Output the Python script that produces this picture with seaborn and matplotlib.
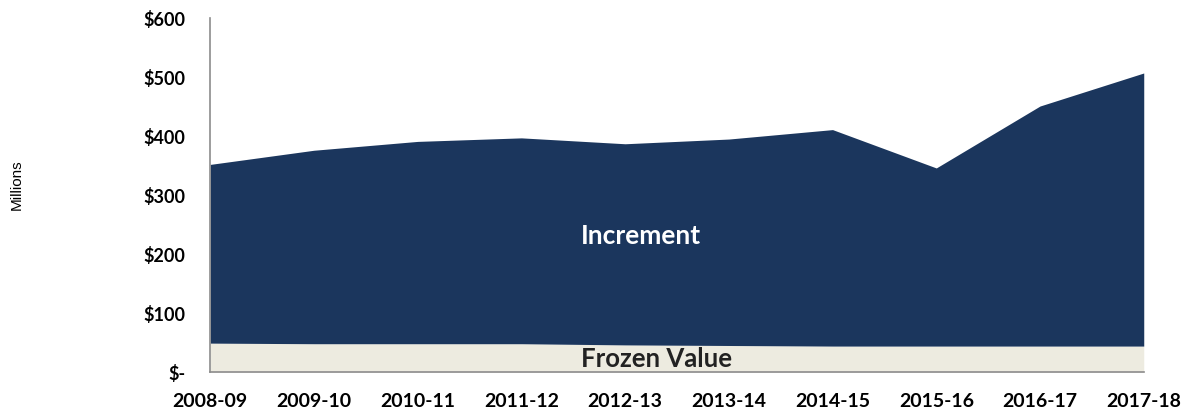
import numpy as np
import seaborn as sns
import matplotlib.pyplot as plt
from matplotlib.ticker import FuncFormatter

sns.set_theme(style='white')
plt.rcParams['font.family'] = ['Lato', 'DejaVu Sans']

years = ['2008-09', '2009-10', '2010-11', '2011-12', '2012-13',
         '2013-14', '2014-15', '2015-16', '2016-17', '2017-18']
frozen = [49, 48, 48, 48, 46, 45, 44, 44, 44, 44]
total = [352, 376, 391, 397, 387, 395, 411, 346, 451, 507]
increment = [t - f for t, f in zip(total, frozen)]

navy = '#1B365D'
beige = '#EDEBE0'

fig, ax = plt.subplots(figsize=(11.84, 4.12), dpi=100)
fig.subplots_adjust(left=0.1775, right=0.966, top=0.956, bottom=0.097)

x = np.arange(len(years))
ax.stackplot(x, frozen, increment, colors=[beige, navy], linewidth=0)

ax.set_xlim(0, len(years) - 1)
ax.set_ylim(0, 600)
ax.set_yticks(range(0, 601, 100))
ax.yaxis.set_major_formatter(FuncFormatter(lambda v, p: '$-' if v == 0 else f'${v:.0f}'))
ax.set_xticks(x)
ax.set_xticklabels(years)

for s in ['top', 'right']:
    ax.spines[s].set_visible(False)
for s in ['left', 'bottom']:
    ax.spines[s].set_color('#8C8C8C')
    ax.spines[s].set_linewidth(1.2)

ax.tick_params(axis='both', which='major', direction='out', length=5, width=1.2,
               color='#8C8C8C')
ax.tick_params(axis='y', labelsize=13, pad=13)
ax.tick_params(axis='x', labelsize=14, pad=10)
for lbl in ax.get_xticklabels() + ax.get_yticklabels():
    lbl.set_fontweight('bold')
    lbl.set_color('black')

fig.text(0.0145, 0.551, 'Millions', rotation=90, ha='center', va='center',
         fontsize=11, family=['Liberation Sans', 'DejaVu Sans'], color='black')

ax.text(4.15, 230, 'Increment', color='white', fontsize=19, fontweight='bold',
        ha='center', va='center')
ax.text(4.3, 22, 'Frozen Value', color='#222222', fontsize=18.5, fontweight='bold',
        ha='center', va='center')

plt.savefig('out.png', dpi=100)
